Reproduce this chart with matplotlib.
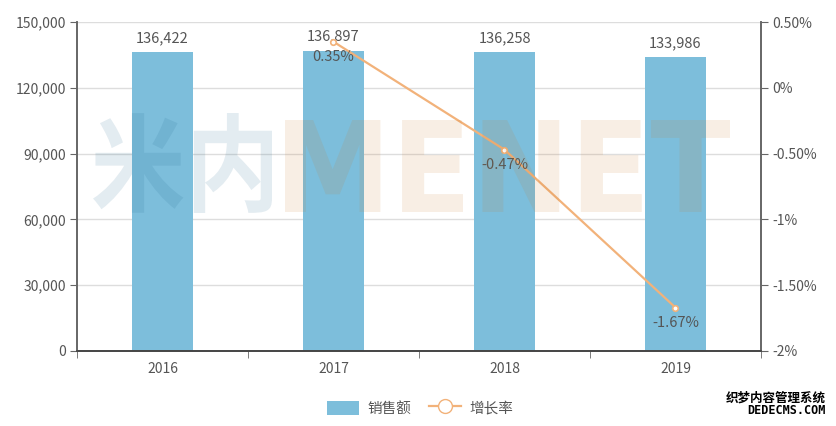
import matplotlib
matplotlib.use("Agg")
import matplotlib.pyplot as plt
from matplotlib.textpath import TextPath
from matplotlib.patches import PathPatch, Patch
from matplotlib.lines import Line2D
from matplotlib.font_manager import FontProperties
from matplotlib.transforms import Affine2D
import numpy as np

plt.rcParams['font.family'] = ['Noto Sans CJK SC', 'DejaVu Sans']

years = ['2016', '2017', '2018', '2019']
sales = [136422, 136897, 136258, 133986]
growth_years = ['2017', '2018', '2019']
growth = [0.35, -0.47, -1.67]
left_ticks = [0, 30000, 60000, 90000, 120000, 150000]
right_ticks = [-2.0, -1.5, -1.0, -0.5, 0.0, 0.5]
right_labels = ['-2%', '-1.50%', '-1%', '-0.50%', '0%', '0.50%']
legend_labels = ['销售额', '增长率']

BAR = '#7dbedb'
LINE = '#f2b27a'
TXT = '#555555'
AX = '#666666'

W, H = 836, 426
fig = plt.figure(figsize=(W / 100, H / 100), dpi=100)
ax = fig.add_axes([77 / W, 1 - 351 / H, (761 - 77) / W, (351 - 22) / H])
ax2 = ax.twinx()

x = np.arange(len(years))
ax.bar(x, sales, width=0.36, color=BAR, zorder=2)
for xi, v in zip(x, sales):
    ax.annotate(f'{v:,}', (xi, v), xytext=(0, 5), textcoords='offset points',
                ha='center', va='bottom', fontsize=10.5, color=TXT, zorder=5)

ax.set_xlim(-0.5, len(years) - 0.5)
ax.set_ylim(0, 150000)
ax.set_yticks(left_ticks)
ax.set_yticklabels([f'{t:,}' for t in left_ticks])
ax.grid(axis='y', color='#dddddd', linewidth=1, zorder=0)
ax.set_axisbelow(True)
ax.set_xticks(x)
ax.set_xticklabels(years)
ax.set_xticks(np.arange(-0.5, len(years), 1.0), minor=True)
ax.tick_params(axis='x', which='major', length=0, pad=8, labelsize=10, labelcolor=TXT)
ax.tick_params(axis='x', which='minor', length=5, color=AX, direction='out')
ax.tick_params(axis='y', length=5, color=AX, labelsize=10, labelcolor=TXT, pad=3)

gx = [years.index(y) for y in growth_years]
ax2.plot(gx, growth, color=LINE, linewidth=1.6, marker='o', markersize=4,
         markerfacecolor='white', markeredgecolor=LINE, markeredgewidth=1.2, zorder=4)
for xi, v in zip(gx, growth):
    ax2.annotate(f'{v:.2f}%', (xi, v), xytext=(0, -6), textcoords='offset points',
                 ha='center', va='top', fontsize=10.5, color=TXT, zorder=6)
ax2.set_ylim(-2.0, 0.5)
ax2.set_yticks(right_ticks)
ax2.set_yticklabels(right_labels)
ax2.tick_params(axis='y', length=5, color=AX, labelsize=10, labelcolor=TXT, pad=3)

for a in (ax, ax2):
    a.spines['top'].set_visible(False)
    a.spines['left'].set_color(AX)
    a.spines['right'].set_color(AX)
    a.spines['bottom'].set_color('#444444')
    a.spines['left'].set_linewidth(1.2)
    a.spines['right'].set_linewidth(1.2)
    a.spines['bottom'].set_linewidth(1.2)

# watermark "米内MENET"
def place_text(s, prop, x0, x1, y0, y1, color, alpha):
    tp = TextPath((0, 0), s, size=100, prop=prop)
    ext = tp.get_extents()
    sx = (x1 - x0) / ext.width
    sy = (y1 - y0) / ext.height
    tr = Affine2D().translate(-ext.x0, -ext.y0).scale(sx, sy).translate(x0, H - y1)
    patch = PathPatch(tp, facecolor=color, edgecolor='none', alpha=alpha, zorder=10)
    patch.set_transform(tr)
    patch.set_figure(fig)
    fig.patches.append(patch)

place_text('米内', FontProperties(family='Noto Sans CJK SC', weight='bold'),
           93, 272, 113, 213, (30 / 255, 100 / 255, 140 / 255), 0.12)
place_text('MENET', FontProperties(family='DejaVu Sans', weight='bold'),
           285, 730, 120, 212, (200 / 255, 120 / 255, 40 / 255), 0.12)

handles = [Patch(facecolor=BAR, edgecolor='none'),
           Line2D([0], [0], color=LINE, linewidth=1.6, marker='o', markersize=10,
                  markerfacecolor='white', markeredgecolor=LINE)]
fig.legend(handles, legend_labels, loc='center', bbox_to_anchor=(420 / W, 1 - 408 / H),
           ncol=2, frameon=False, fontsize=10.5, labelcolor=TXT, handlelength=2.2,
           handleheight=1.1, columnspacing=1.2, handletextpad=0.6)

fig.text(826 / W, 1 - 398 / H, '织梦内容管理系统', ha='right', va='center',
         fontsize=9, color='black', fontweight='bold')
fig.text(826 / W, 1 - 411 / H, 'DEDECMS.COM', ha='right', va='center',
         fontsize=8.5, color='black', family='DejaVu Sans Mono', fontweight='bold')

fig.savefig('out.png', dpi=100)
